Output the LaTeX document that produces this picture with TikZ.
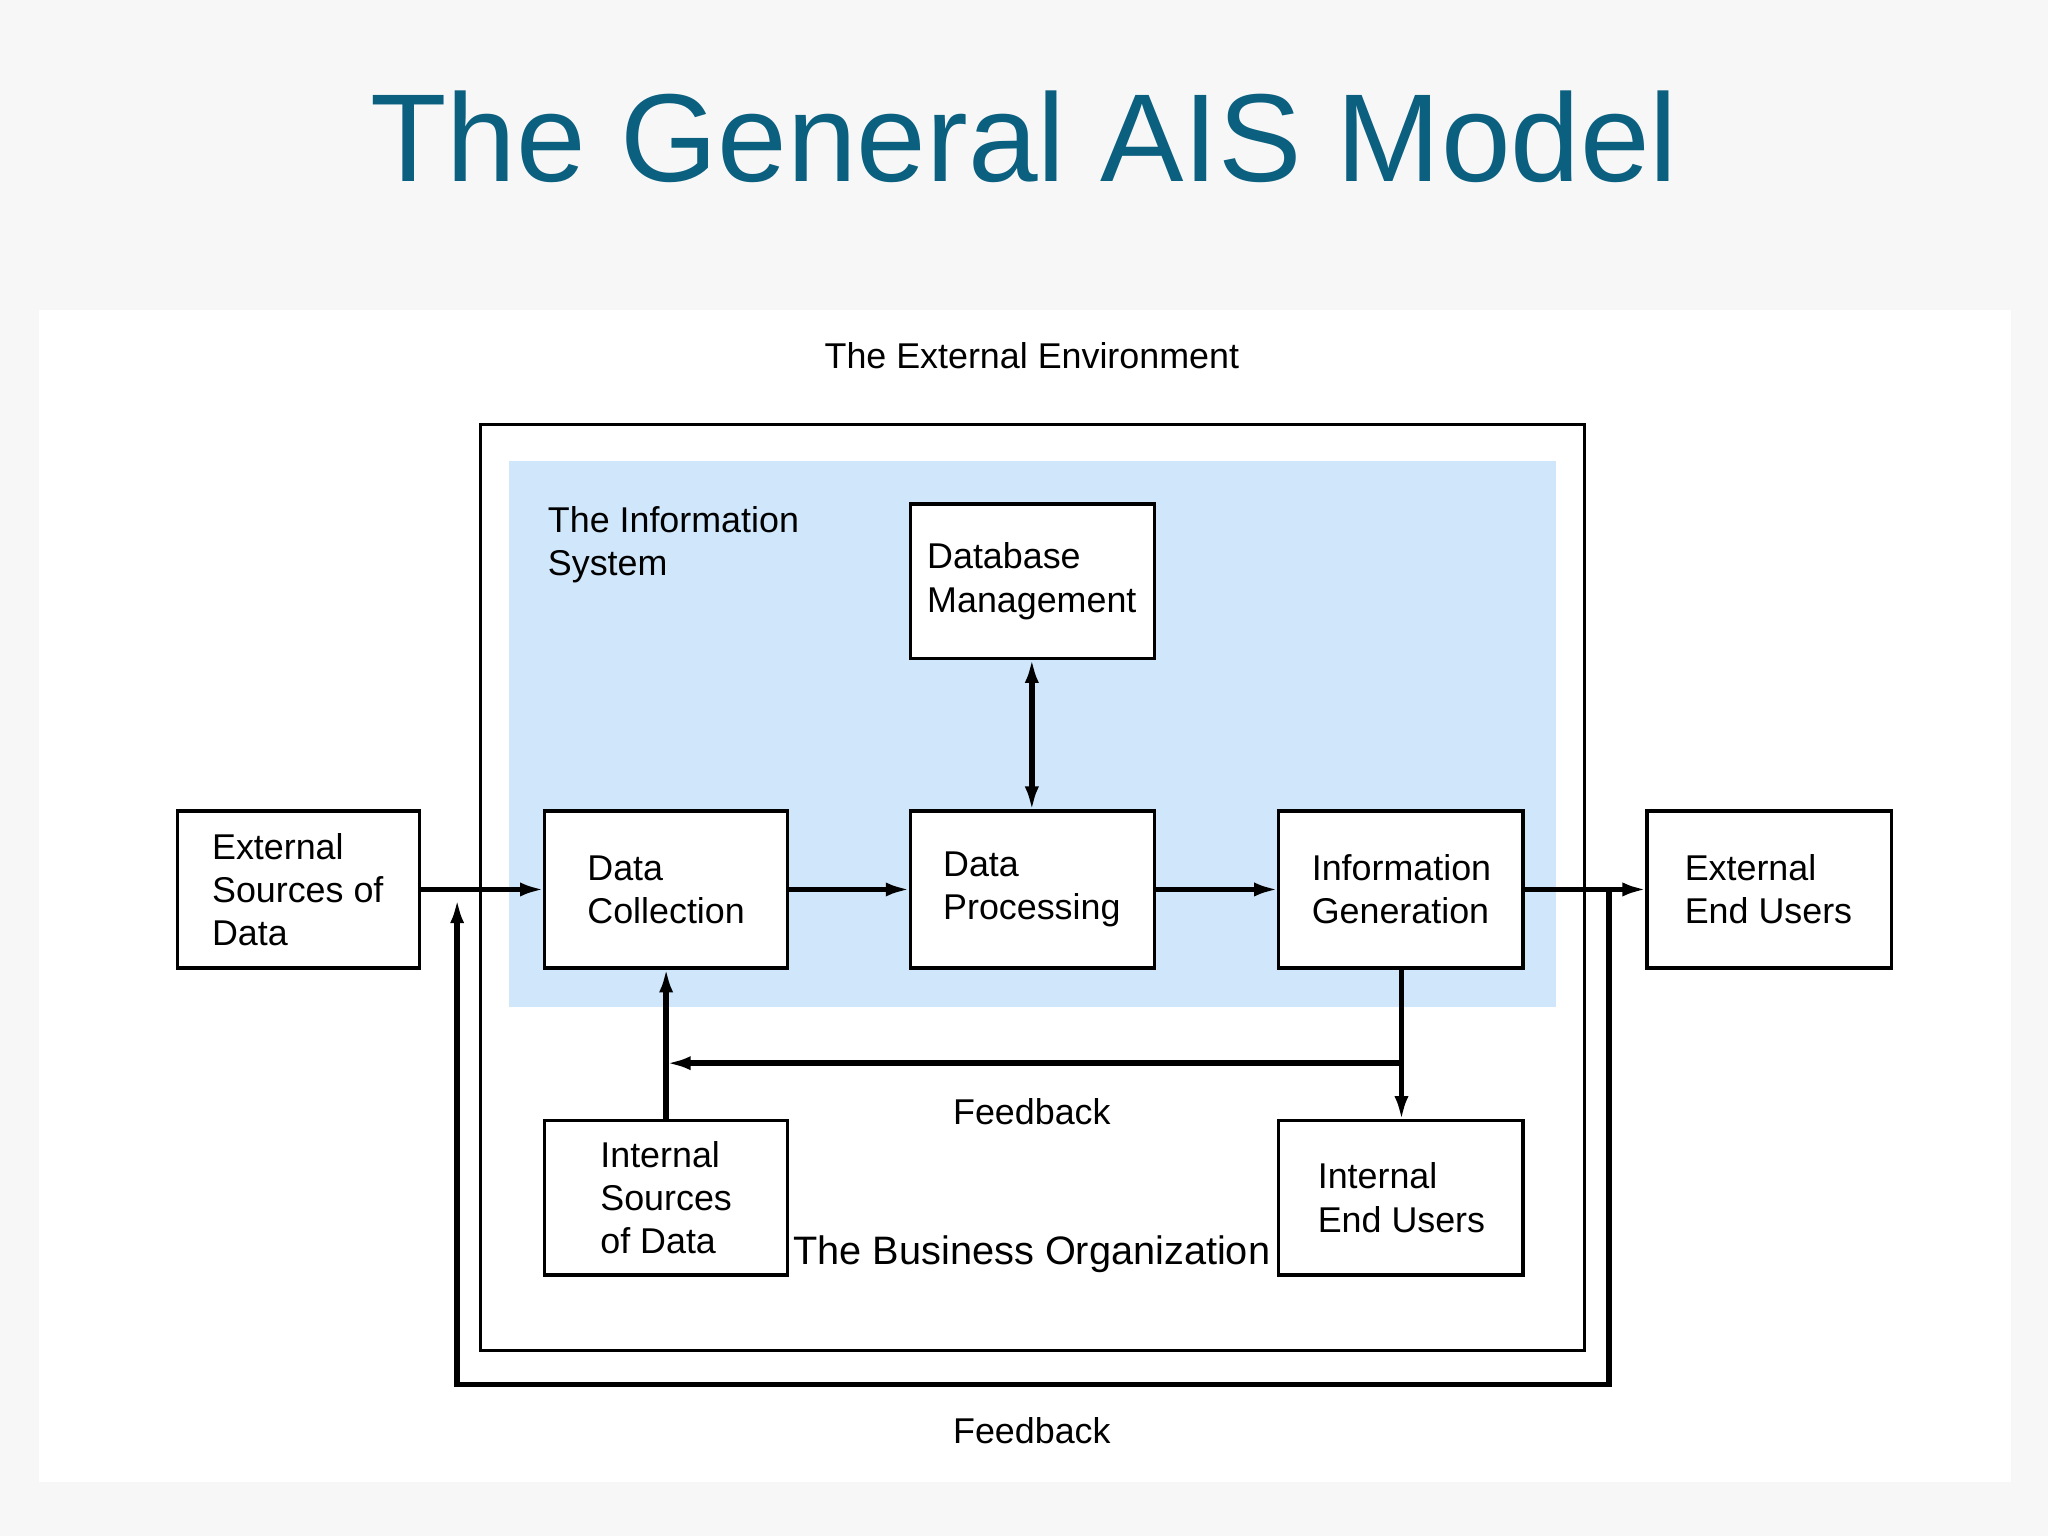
\documentclass[tikz,border=0pt]{standalone}
\usepackage{fontspec}
\setmainfont{Liberation Sans}
\usetikzlibrary{arrows.meta}
\definecolor{titlec}{HTML}{0B5F7F}
\definecolor{isblue}{HTML}{CFE6FB}
\begin{document}
\begin{tikzpicture}[x=0.01306cm,y=-0.01306cm,
  lbl/.style={font=\fontsize{10.2}{12.3}\selectfont,align=left},
  bx/.style={line width=1pt,fill=white},
  ar/.style={line width=1.6pt,-{Latex[length=7pt,width=4pt]}}]
\fill[gray!6] (0,0) rectangle (1568,1176);
\fill[white] (30,237) rectangle (1540,1135);
\useasboundingbox (0,0) rectangle (1568,1176);
\node[text=titlec,font=\fontsize{35.6}{40}\selectfont] (title) at (784,105) {The General AIS Model};
\node[lbl] (env) at (790,272) {The External Environment};
\draw[line width=1pt] (368,325) rectangle (1213,1034);
\fill[isblue] (390,353) rectangle (1191,771);
\node[lbl,anchor=north west] (is) at (410,378) {The Information\\System};
\draw[bx] (697,386) rectangle (884,504);
\node[lbl] (db) at (790,445) {Database\\Management};
\draw[bx] (136,621) rectangle (321,741);
\node[lbl] (es) at (228,681) {External\\Sources of\\Data};
\draw[bx] (417,621) rectangle (603,741);
\node[lbl] (dc) at (510,681) {Data\\Collection};
\draw[bx] (697,621) rectangle (884,741);
\node[lbl] (dp) at (790,681) {Data\\Processing};
\draw[bx] (979,621) rectangle (1166,741);
\node[lbl] (ig) at (1073,681) {Information\\Generation};
\draw[bx] (1261,621) rectangle (1448,741);
\node[lbl] (eu) at (1354,681) {External\\End Users};
\draw[bx] (417,858) rectangle (603,976);
\node[lbl] (isd) at (510,917) {Internal\\Sources\\of Data};
\draw[bx] (979,858) rectangle (1166,976);
\node[lbl] (ieu) at (1073,917) {Internal\\End Users};
\coordinate (esR) at (321,681); \coordinate (dcL) at (417,681);
\coordinate (dcR) at (603,681); \coordinate (dpL) at (697,681);
\coordinate (dpR) at (884,681); \coordinate (igL) at (979,681);
\coordinate (igR) at (1166,681); \coordinate (euL) at (1261,681);
\coordinate (dbB) at (790,504); \coordinate (dpT) at (790,621);
\coordinate (igB) at (1073,741); \coordinate (ieuT) at (1073,858);
\coordinate (fb) at (1073,814); \coordinate (dcfb) at (510,814);
\coordinate (isdT) at (510,858); \coordinate (dcB) at (510,741);
\draw[ar] (esR) -- (dcL);
\draw[ar] (dcR) -- (dpL);
\draw[ar] (dpR) -- (igL);
\draw[ar] (igR) -- (euL);
\draw[line width=1.6pt,{Latex[length=7pt,width=4pt]}-{Latex[length=7pt,width=4pt]}] (dbB) -- (dpT);
\draw[line width=1.6pt] (igB) -- (fb);
\draw[ar] (fb) -- (dcfb);
\draw[ar] (fb) -- (ieuT);
\draw[ar] (isdT) -- (dcB);
\draw[ar] (1232,681) -- (1232,1060) -- (350,1060) -- (350,688);
\node[lbl] (fb1) at (790,851) {Feedback};
\node[lbl] (fb2) at (790,1095) {Feedback};
\node[font=\fontsize{11.3}{14}\selectfont] (bo) at (790,960) {The Business Organization};
\end{tikzpicture}
\end{document}
